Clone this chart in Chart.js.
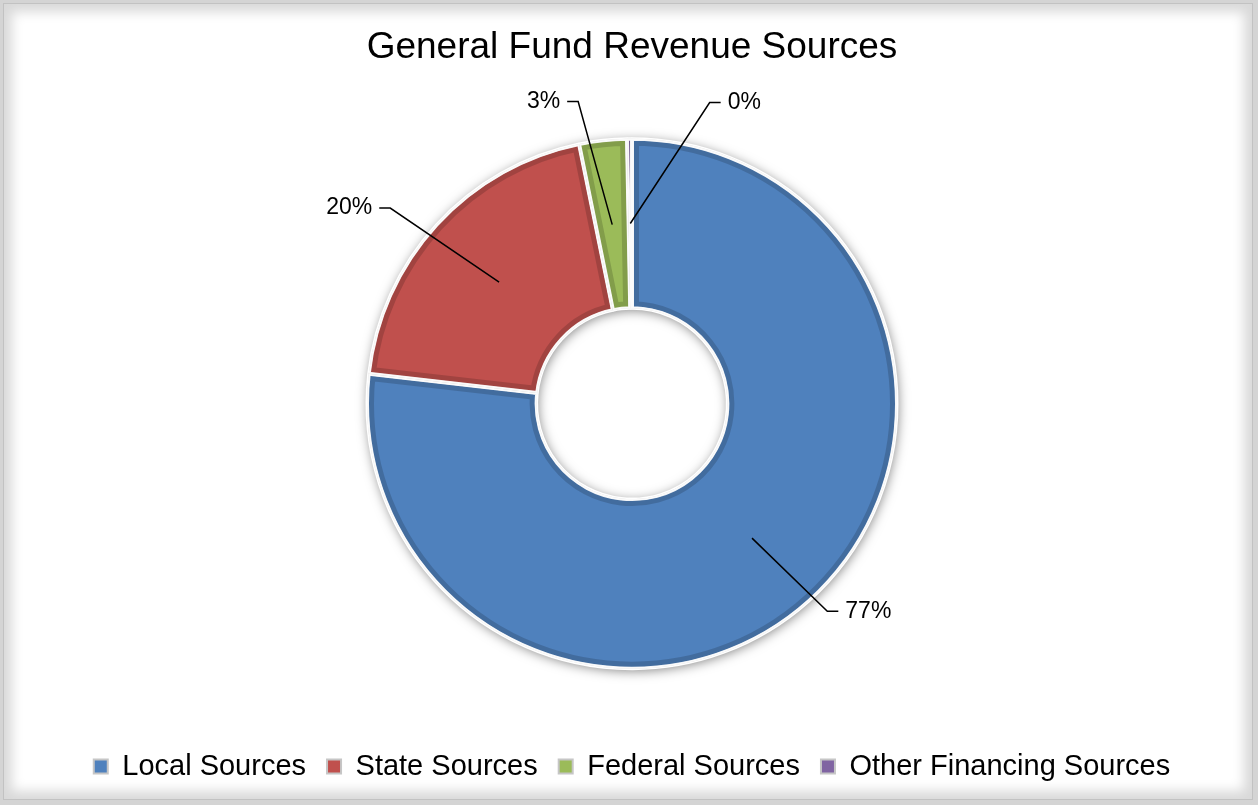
<!DOCTYPE html>
<html lang="en">
<head>
    <meta charset="UTF-8">
    <title>General Fund Revenue Sources</title>
    <script src="https://cdn.jsdelivr.net/npm/chart.js"></script>
    <style>
        body {
            margin: 0;
            background-color: #d4d4d4;
            font-family: "Liberation Sans", Arial, sans-serif;
        }
        .frame {
            position: absolute;
            left: 3px;
            top: 3px;
            width: 1250px;
            height: 797px;
            border: 1px solid #c2c2c2;
            box-sizing: border-box;
            background-color: #fff;
            box-shadow: inset 0 0 12px 8px #d9d9d9;
        }
        .wrap {
            position: absolute;
            left: 0;
            top: 0;
            width: 1258px;
            height: 805px;
        }
    </style>
</head>
<body>
    <div class="frame"></div>
    <div class="wrap"><canvas id="revenue"></canvas></div>

    <script>
        const categories = ['Local Sources', 'State Sources', 'Federal Sources', 'Other Financing Sources'];
        const shares = [76.8, 20.0, 2.9, 0.3];
        const colors = ['#4F81BD', '#C0504D', '#9BBB59', '#8064A2'];

        const FONT = '"Liberation Sans", Arial, sans-serif';

        // ring shadow under the slices
        const ringShadow = {
            id: 'ringShadow',
            beforeDatasetsDraw(chart) {
                const arc = chart.getDatasetMeta(0).data[0];
                if (!arc) return;
                const p = arc.getProps(['x', 'y', 'innerRadius', 'outerRadius'], true);
                const ctx = chart.ctx;
                ctx.save();
                ctx.shadowColor = 'rgba(0,0,0,0.5)';
                ctx.shadowBlur = 12;
                ctx.shadowOffsetX = 1;
                ctx.shadowOffsetY = 2;
                ctx.beginPath();
                ctx.arc(p.x, p.y, p.outerRadius, 0, Math.PI * 2);
                ctx.arc(p.x, p.y, p.innerRadius, Math.PI * 2, 0, true);
                ctx.closePath();
                ctx.fillStyle = '#fff';
                ctx.fill();
                ctx.restore();
            }
        };

        // darker inner edge on each slice
        const bevel = {
            id: 'bevel',
            afterDatasetsDraw(chart) {
                const ctx = chart.ctx;
                chart.getDatasetMeta(0).data.forEach(arc => {
                    const p = arc.getProps(['x', 'y', 'startAngle', 'endAngle', 'innerRadius', 'outerRadius'], true);
                    if (p.endAngle - p.startAngle <= 0) return;
                    ctx.save();
                    ctx.beginPath();
                    ctx.arc(p.x, p.y, p.outerRadius, p.startAngle, p.endAngle);
                    ctx.arc(p.x, p.y, p.innerRadius, p.endAngle, p.startAngle, true);
                    ctx.closePath();
                    ctx.clip();
                    ctx.lineJoin = 'miter';
                    ctx.strokeStyle = 'rgba(0,0,0,0.16)';
                    ctx.lineWidth = 14;
                    ctx.stroke();
                    ctx.strokeStyle = 'rgba(255,255,255,0.9)';
                    ctx.lineWidth = 4;
                    ctx.stroke();
                    ctx.restore();
                });
            }
        };

        // percentage labels with leader lines
        const leaderLabels = {
            id: 'leaderLabels',
            afterDraw(chart, args, opts) {
                const ctx = chart.ctx;
                const meta = chart.getDatasetMeta(0);
                const total = shares.reduce((a, b) => a + b, 0);
                meta.data.forEach((arc, i) => {
                    const p = arc.getProps(['x', 'y', 'startAngle', 'endAngle', 'innerRadius', 'outerRadius'], true);
                    const lay = opts.layout[i];
                    const mid = (p.startAngle + p.endAngle) / 2;
                    const rMid = (p.innerRadius + p.outerRadius) / 2;
                    const a2 = mid + lay.shift * Math.PI / 180;
                    const r2 = p.outerRadius + lay.out;
                    const x1 = p.x + Math.cos(mid) * rMid;
                    const y1 = p.y + Math.sin(mid) * rMid;
                    const x2 = p.x + Math.cos(a2) * r2;
                    const y2 = p.y + Math.sin(a2) * r2;
                    const dir = x2 >= p.x ? 1 : -1;
                    const x3 = x2 + dir * 11;

                    ctx.save();
                    ctx.strokeStyle = '#000';
                    ctx.lineWidth = 1.5;
                    ctx.beginPath();
                    ctx.moveTo(x1, y1);
                    ctx.lineTo(x2, y2);
                    ctx.lineTo(x3, y2);
                    ctx.stroke();

                    ctx.fillStyle = '#000';
                    ctx.font = '23px ' + FONT;
                    ctx.textBaseline = 'middle';
                    ctx.textAlign = dir > 0 ? 'left' : 'right';
                    ctx.fillText(Math.round(shares[i] / total * 100) + '%', x3 + dir * 7, y2);
                    ctx.restore();
                });
            }
        };

        const baseLabels = Chart.overrides.doughnut.plugins.legend.labels.generateLabels;

        new Chart(document.getElementById('revenue'), {
            type: 'doughnut',
            data: {
                labels: categories,
                datasets: [{
                    data: shares,
                    backgroundColor: colors,
                    borderColor: '#fff',
                    borderWidth: 3
                }]
            },
            options: {
                responsive: true,
                maintainAspectRatio: false,
                animation: false,
                radius: 265,
                cutout: '36%',
                layout: {
                    padding: { left: 6, right: 0, top: 0, bottom: 14 }
                },
                plugins: {
                    title: {
                        display: true,
                        text: 'General Fund Revenue Sources',
                        color: '#000',
                        font: { family: FONT, size: 37, weight: 'normal' },
                        padding: { top: 26, bottom: 6 }
                    },
                    legend: {
                        position: 'bottom',
                        labels: {
                            color: '#000',
                            font: { family: FONT, size: 29 },
                            boxWidth: 14,
                            boxHeight: 14,
                            padding: 21,
                            generateLabels(chart) {
                                return baseLabels(chart).map(item => Object.assign(item, {
                                    strokeStyle: '#c6c6c6',
                                    lineWidth: 2
                                }));
                            }
                        }
                    },
                    tooltip: { enabled: false },
                    leaderLabels: {
                        layout: [
                            { out: 20, shift: -1.5 },
                            { out: 46, shift: -3.5 },
                            { out: 42, shift: -3.8 },
                            { out: 46, shift: 15 }
                        ]
                    }
                }
            },
            plugins: [ringShadow, bevel, leaderLabels]
        });
    </script>
</body>
</html>
